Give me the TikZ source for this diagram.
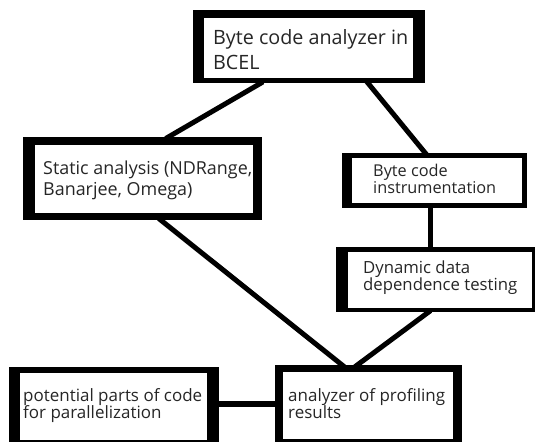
\documentclass[tikz,border=0pt]{standalone}
\usepackage{fontspec}
\setmainfont{Open Sans}
\usetikzlibrary{calc,backgrounds}
\newlength\fitw
\newcommand\fitsize[3]{%
  \settowidth\fitw{\normalfont\fontsize{10pt}{12pt}\selectfont #1}%
  \pgfmathsetmacro#3{10*#2/\fitw}}
\tikzset{
  outerbox/.style={fill=black, inner sep=0pt, anchor=north west},
  innerbox/.style={fill=white},
  txt/.style={anchor=base west, inner sep=0pt, text=black!85},
  conn/.style={line width=5pt, draw=black, shorten <=-3pt, shorten >=-3pt}
}
\begin{document}
\fitsize{Byte code analyzer in}{195}{\fsA}%
\fitsize{Static analysis (NDRange,}{209}{\fsB}%
\fitsize{instrumentation}{123}{\fsC}%
\fitsize{dependence testing}{154}{\fsD}%
\fitsize{potential parts of code}{179}{\fsE}%
\fitsize{analyzer of profiling}{157}{\fsF}%
\begin{tikzpicture}[x=1pt,y=-1pt]
\useasboundingbox (0,0) rectangle (535,442);
% boxes (outer black frame, inner white face)
\node[outerbox, minimum width=232pt, minimum height=73pt] (bcel) at (193,10) {};
\fill[innerbox] (204,18) rectangle (413,78);
\node[outerbox, minimum width=239pt, minimum height=83pt] (static) at (23,137) {};
\fill[innerbox] (35,145) rectangle (253,213);
\node[outerbox, minimum width=185pt, minimum height=55pt] (instr) at (342,153) {};
\fill[innerbox] (352,158) rectangle (522,203);
\node[outerbox, minimum width=199pt, minimum height=65pt] (dyn) at (336,247) {};
\fill[innerbox] (348,252) rectangle (532,308);
\node[outerbox, minimum width=210pt, minimum height=75pt] (pot) at (9,367) {};
\fill[innerbox] (20,373) rectangle (207,440);
\node[outerbox, minimum width=187pt, minimum height=77pt] (anal) at (275,365) {};
\fill[innerbox] (283,372) rectangle (453,439);
% texts
\node[txt, font=\fontsize{\fsA pt}{\fsA pt}\selectfont] (bcelA) at (213,44) {Byte code analyzer in};
\node[txt, font=\fontsize{\fsA pt}{\fsA pt}\selectfont] (bcelB) at (213,69) {BCEL};
\node[txt, font=\fontsize{\fsB pt}{\fsB pt}\selectfont] (staticA) at (43,174) {Static analysis (NDRange,};
\node[txt, font=\fontsize{\fsB pt}{\fsB pt}\selectfont] (staticB) at (43,195) {Banarjee, Omega)};
\node[txt, font=\fontsize{\fsC pt}{\fsC pt}\selectfont] (instrA) at (373,176) {Byte code};
\node[txt, font=\fontsize{\fsC pt}{\fsC pt}\selectfont] (instrB) at (373,193) {instrumentation};
\node[txt, font=\fontsize{\fsD pt}{\fsD pt}\selectfont] (dynA) at (363,273) {Dynamic data};
\node[txt, font=\fontsize{\fsD pt}{\fsD pt}\selectfont] (dynB) at (363,290) {dependence testing};
\node[txt, font=\fontsize{\fsE pt}{\fsE pt}\selectfont] (potA) at (23,401) {potential parts of code};
\node[txt, font=\fontsize{\fsE pt}{\fsE pt}\selectfont] (potB) at (23,418) {for parallelization};
\node[txt, font=\fontsize{\fsF pt}{\fsF pt}\selectfont] (analA) at (288,401) {analyzer of profiling};
\node[txt, font=\fontsize{\fsF pt}{\fsF pt}\selectfont] (analB) at (288,418) {results};
% connectors
\begin{pgfonlayer}{background}
\draw[conn] ($(bcel.south west)!0.29!(bcel.south east)$) -- ($(static.north west)!0.607!(static.north east)$);
\draw[conn] ($(bcel.south west)!0.754!(bcel.south east)$) -- ($(instr.north west)!0.449!(instr.north east)$);
\coordinate (iv) at ($(instr.south west)!0.476!(instr.south east)$);
\draw[conn] (iv) -- (iv |- dyn.north);
\draw[conn] ($(static.south west)!0.577!(static.south east)$) -- ($(anal.north west)!0.358!(anal.north east)$);
\draw[conn] ($(dyn.south west)!0.462!(dyn.south east)$) -- ($(anal.north west)!0.439!(anal.north east)$);
\coordinate (ph) at ($(pot.north east)!0.49!(pot.south east)$);
\draw[line width=6pt] (ph) -- (ph -| anal.west);
\end{pgfonlayer}
\end{tikzpicture}
\end{document}
